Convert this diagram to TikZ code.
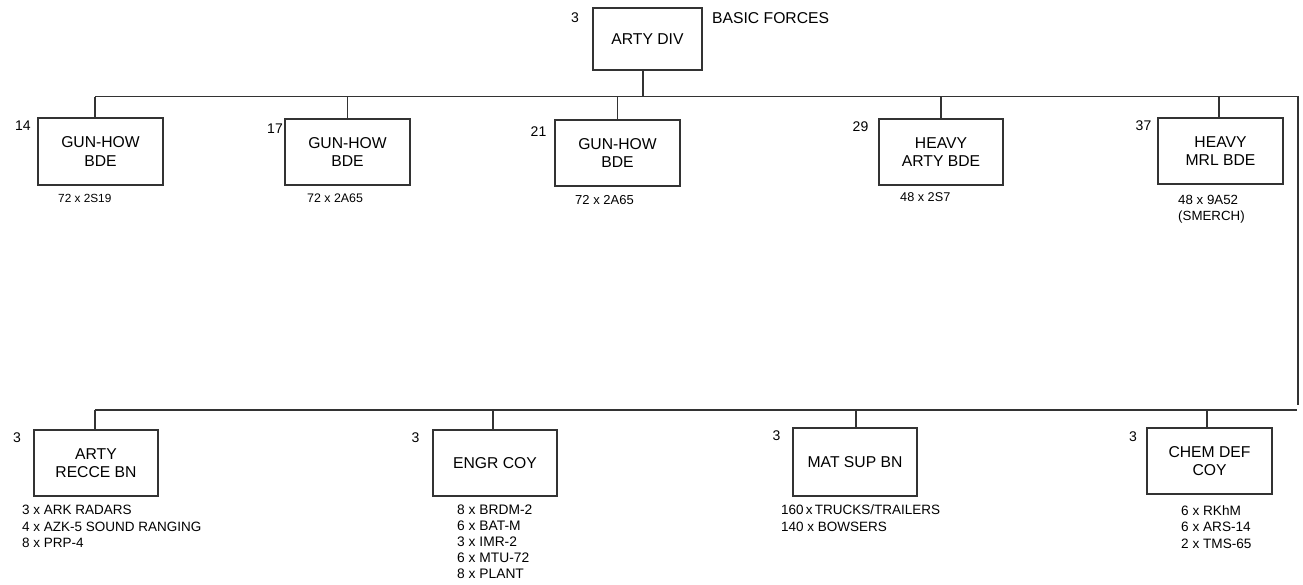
\documentclass[tikz,border=0pt]{standalone}
\usepackage{fontspec}
\setmainfont{Liberation Sans}
\begin{document}
\begin{tikzpicture}[x=1pt,y=-1pt,
  unitbox/.style={draw=black!80, line width=1.2pt, inner sep=0pt, align=center,
    font=\fontsize{15.7}{18.5}\selectfont},
  num/.style={inner sep=0pt, font=\fontsize{14}{16}\selectfont},
  capt/.style={inner sep=0pt, anchor=north west, align=left},
  conn/.style={draw=black!80, line width=1.2pt}]
\useasboundingbox (0,0) rectangle (1303,584);
% top
\node[unitbox, minimum width=109pt, minimum height=62pt] (div) at (647.5,39) {ARTY DIV};
\node[num] (ndiv) at (575,17.5) {3};
\node[inner sep=0pt, anchor=west, font=\fontsize{15.7}{18}\selectfont] (basic) at (712,18) {BASIC FORCES};
% row 1
\node[unitbox, minimum width=125pt, minimum height=67pt] (b14) at (100.5,151.5) {GUN-HOW\\BDE};
\node[unitbox, minimum width=125pt, minimum height=66pt] (b17) at (347.5,152) {GUN-HOW\\BDE};
\node[unitbox, minimum width=125pt, minimum height=66pt] (b21) at (617.5,153) {GUN-HOW\\BDE};
\node[unitbox, minimum width=124pt, minimum height=66pt] (b29) at (941,152) {HEAVY\\ARTY BDE};
\node[unitbox, minimum width=125pt, minimum height=66pt] (b37) at (1220.5,151) {HEAVY\\MRL BDE};
\node[num] (n14) at (23,126) {14};
\node[num] (n17) at (275,129) {17};
\node[num] (n21) at (538.5,132) {21};
\node[num] (n29) at (860.5,127) {29};
\node[num] (n37) at (1143.5,126) {37};
\node[capt, font=\fontsize{11.8}{15}\selectfont] (c14) at (58,194) {72 x 2S19};
\node[capt, font=\fontsize{12.4}{15}\selectfont] (c17) at (307,193.5) {72 x 2A65};
\node[capt, font=\fontsize{13}{15}\selectfont] (c21) at (575,195.5) {72 x 2A65};
\node[capt, font=\fontsize{12.7}{15}\selectfont] (c29) at (900,192.5) {48 x 2S7};
\node[capt, font=\fontsize{13.3}{15.5}\selectfont] (c37) at (1178,195.5) {48 x 9A52\\(SMERCH)};
% row 2
\node[unitbox, minimum width=124pt, minimum height=66pt] (bA) at (96,463) {ARTY\\RECCE BN};
\node[unitbox, minimum width=124pt, minimum height=66pt] (bB) at (495,463) {ENGR COY};
\node[unitbox, minimum width=124pt, minimum height=68pt] (bC) at (855,462) {MAT SUP BN};
\node[unitbox, minimum width=125pt, minimum height=66pt] (bD) at (1209.5,461) {CHEM DEF\\COY};
\node[num] (nA) at (17,438) {3};
\node[num] (nB) at (415.5,438) {3};
\node[num] (nC) at (776.5,436) {3};
\node[num] (nD) at (1133,437) {3};
\node[capt, font=\fontsize{13.5}{16.5}\selectfont] (cA) at (22,505) {3 x ARK RADARS\\4 x AZK-5 SOUND RANGING\\8 x PRP-4};
\node[capt, font=\fontsize{13.8}{16}\selectfont] (cB) at (457,505) {8 x BRDM-2\\6 x BAT-M\\3 x IMR-2\\6 x MTU-72\\8 x PLANT};
\node[capt, font=\fontsize{13.5}{16.5}\selectfont] (cC) at (781,505) {160\,x\,TRUCKS/TRAILERS\\140 x BOWSERS};
\node[capt, font=\fontsize{13.6}{16.5}\selectfont] (cD) at (1181,505) {6 x RKhM\\6 x ARS-14\\2 x TMS-65};
% bus lines
\coordinate (tl) at (95,96.5);
\coordinate (tr) at (1298,96.5);
\coordinate (re) at (1298,405);
\coordinate (bl) at (95,410);
\coordinate (br) at (1297,410);
\draw[conn] (tl) -- (tr) -- (re);
\draw[conn] (bl) -- (br);
\draw[conn] (div.south -| 643,0) -- (tl -| 643,0);
\draw[conn] (b14.north -| tl) -- (tl);
\draw[conn] (b17.north) -- (b17.north |- tl);
\draw[conn] (b21.north) -- (b21.north |- tl);
\draw[conn] (b29.north) -- (b29.north |- tl);
\draw[conn] (b37.north -| 1219,0) -- (tl -| 1219,0);
\draw[conn] (bA.north -| bl) -- (bl);
\draw[conn] (bB.north -| 493,0) -- (bl -| 493,0);
\draw[conn] (bC.north -| 856,0) -- (bl -| 856,0);
\draw[conn] (bD.north -| 1207,0) -- (bl -| 1207,0);
\end{tikzpicture}
\end{document}
